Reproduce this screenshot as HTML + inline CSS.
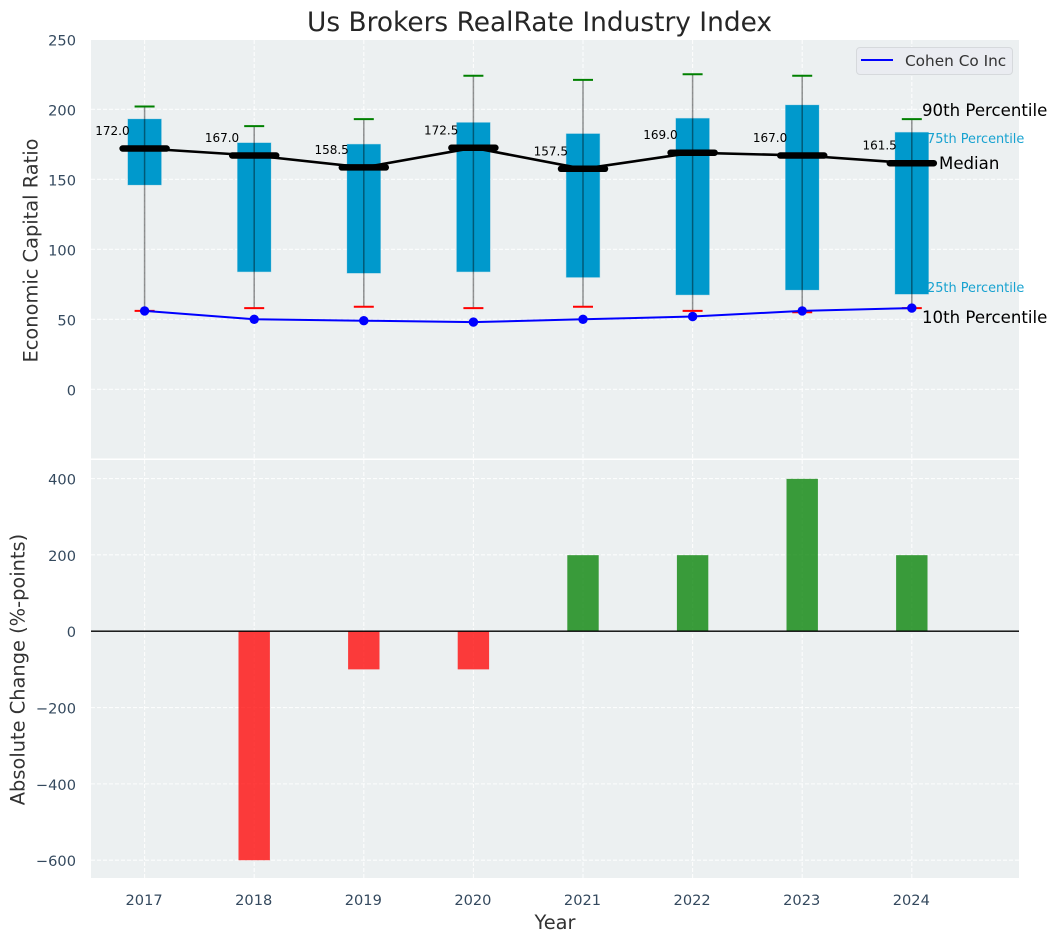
<!DOCTYPE html>
<html lang="en">
<head>
<meta charset="utf-8">
<title>Us Brokers RealRate Industry Index</title>
<style>
html,body{margin:0;padding:0;background:#fff;}
svg{display:block;font-family:"DejaVu Sans","Liberation Sans",sans-serif;}
</style>
</head>
<body>
<svg id="chart" xmlns="http://www.w3.org/2000/svg" width="1057" height="942" viewBox="0 0 1057 942">
  <rect x="91" y="40" width="928" height="418.5" fill="#ecf0f1"/>
  <rect x="91" y="460" width="928" height="418" fill="#ecf0f1"/>
  <g id="grid"></g>
  <g id="bars"></g>
  <g id="boxes"></g>
  <g id="whiskers"></g>
  <g id="medians"></g>
  <g id="company"></g>
  <g id="ticks"></g>
  <g id="labels"></g>
  <line id="zero" x1="91" x2="1019" stroke="#000" stroke-width="1.4"/>
  <text x="539.5" y="31" text-anchor="middle" font-size="26.4" fill="#262626">Us Brokers RealRate Industry Index</text>
  <text transform="translate(37.5,250.5) rotate(-90)" text-anchor="middle" font-size="19.4" fill="#333">Economic Capital Ratio</text>
  <text transform="translate(24.5,669.5) rotate(-90)" text-anchor="middle" font-size="19.4" fill="#333">Absolute Change (%-points)</text>
  <text x="555" y="929" text-anchor="middle" font-size="19.4" fill="#333">Year</text>
  <text x="922" y="116" font-size="16.6" fill="#000">90th Percentile</text>
  <text x="927" y="143" font-size="12.9" fill="#0099cc" fill-opacity="0.9">75th Percentile</text>
  <text x="939" y="169" font-size="16.6" fill="#000">Median</text>
  <text x="927" y="292" font-size="12.9" fill="#0099cc" fill-opacity="0.9">25th Percentile</text>
  <text x="922" y="323" font-size="16.6" fill="#000">10th Percentile</text>
  <g>
    <rect x="856.5" y="47.5" width="156" height="27" rx="3.5" fill="#eaecf1" stroke="#d6d9dc" stroke-width="1"/>
    <line x1="861" x2="893" y1="60" y2="60" stroke="#0000ff" stroke-width="2"/>
    <text x="905" y="66" font-size="15.3" fill="#333">Cohen Co Inc</text>
  </g>
</svg>
<script>
const years = [2017, 2018, 2019, 2020, 2021, 2022, 2023, 2024];
const p90 = [202, 188, 193, 224, 221, 225, 224, 193];
const p75 = [193, 176, 175, 190.5, 182.5, 193.5, 203, 183.5];
const medians = [172, 167, 158.5, 172.5, 157.5, 169, 167, 161.5];
const p25 = [146, 84, 83, 84, 80, 67.5, 71, 68];
const p10 = [56, 58, 59, 58, 59, 56, 55, 58];
const companyValues = [56, 50, 49, 48, 50, 52, 56, 58];
const changes = [0, -600, -100, -100, 200, 200, 400, 200];
const topTicks = [0, 50, 100, 150, 200, 250];
const bottomTicks = [-600, -400, -200, 0, 200, 400];

const NS = 'http://www.w3.org/2000/svg';
function x(v) { return 91 + (v - 2016.511) * 928 / (2024.978 - 2016.511); }
function yTop(v) { return 389.3 - 1.4 * v; }
function yBottom(v) { return 631.2 - 0.3817 * v; }
function mk(parent, tag, props) {
  const el = document.createElementNS(NS, tag);
  for (const k in props) el.setAttribute(k, props[k]);
  document.getElementById(parent).appendChild(el);
  return el;
}
function fmtTick(v) { return String(v).replace('-', '\u2212'); }

document.getElementById('zero').setAttribute('y1', yBottom(0));
document.getElementById('zero').setAttribute('y2', yBottom(0));

const gridStyle = { stroke: '#ffffff', 'stroke-width': 1.1, 'stroke-dasharray': '4 2', 'stroke-opacity': 0.85 };
years.forEach(function (yr) {
  const top = mk('grid', 'line', Object.assign({ x1: x(yr), x2: x(yr), y1: 40, y2: 458.5 }, gridStyle));
  
  
  const bot = mk('grid', 'line', Object.assign({ x1: x(yr), x2: x(yr), y1: 460, y2: 878 }, gridStyle));
  
  
  const t = mk('ticks', 'text', { x: x(yr) - 0.5, y: 905, 'text-anchor': 'middle', 'font-size': 14.6, fill: '#34495e' });
  t.textContent = yr;
  
  
});
topTicks.forEach(function (v) {
  const g = mk('grid', 'line', Object.assign({ x1: 91, x2: 1019, y1: yTop(v), y2: yTop(v) }, gridStyle));
  
  
  const t = mk('ticks', 'text', { x: 76, y: yTop(v) + 6, 'text-anchor': 'end', 'font-size': 14.6, fill: '#34495e' });
  t.textContent = fmtTick(v);
  
  
});
bottomTicks.forEach(function (v) {
  const g = mk('grid', 'line', Object.assign({ x1: 91, x2: 1019, y1: yBottom(v), y2: yBottom(v) }, gridStyle));
  
  
  const t = mk('ticks', 'text', { x: 76, y: yBottom(v) + 6, 'text-anchor': 'end', 'font-size': 14.6, fill: '#34495e' });
  t.textContent = fmtTick(v);
  
  
});

changes.forEach(function (v, i) {
  if (v === 0) return;
  const y0 = yBottom(Math.max(v, 0));
  const y1 = yBottom(Math.min(v, 0));
  const b = mk('bars', 'rect', { x: x(years[i]) - 15.7, y: y0 + 0.3, width: 31.4, height: y1 - y0 - 0.3, fill: v < 0 ? '#ff0000' : '#008000', 'fill-opacity': 0.76 });
  
  
});

years.forEach(function (yr, i) {
  const cx = x(yr);
  const box = mk('boxes', 'rect', { x: cx - 16.7, y: yTop(p75[i]), width: 33.4, height: yTop(p25[i]) - yTop(p75[i]), fill: '#0099cc', stroke: '#0099cc', 'stroke-opacity': 0.25, 'stroke-width': 1 });
  
  
  const w = mk('whiskers', 'line', { x1: cx, x2: cx, y1: yTop(p90[i]), y2: yTop(p10[i]), stroke: '#000', 'stroke-opacity': 0.42, 'stroke-width': 1.5 });
  
  
  const hi = mk('whiskers', 'line', { x1: cx - 10, x2: cx + 10, y1: yTop(p90[i]), y2: yTop(p90[i]), stroke: '#008000', 'stroke-width': 2 });
  
  
  const lo = mk('whiskers', 'line', { x1: cx - 10, x2: cx + 10, y1: yTop(p10[i]), y2: yTop(p10[i]), stroke: '#ff0000', 'stroke-width': 2 });
  
  
  const m = mk('medians', 'line', { x1: cx - 22, x2: cx + 22, y1: yTop(medians[i]), y2: yTop(medians[i]), stroke: '#000', 'stroke-width': 6.5, 'stroke-linecap': 'round' });
  
  
  const t = mk('labels', 'text', { x: cx - 15, y: yTop(medians[i]) - 13.5, 'text-anchor': 'end', 'font-size': 12, fill: '#000' });
  t.textContent = medians[i].toFixed(1);
  
  
});

const medianPath = mk('medians', 'polyline', { points: years.map(function (yr, i) { return x(yr) + ',' + yTop(medians[i]); }).join(' '), fill: 'none', stroke: '#000', 'stroke-width': 2.6 });



const companyLine = mk('company', 'polyline', { points: years.map(function (yr, i) { return x(yr) + ',' + yTop(companyValues[i]); }).join(' '), fill: 'none', stroke: '#0000ff', 'stroke-width': 2 });


years.forEach(function (yr, i) {
  const c = mk('company', 'circle', { cx: x(yr), cy: yTop(companyValues[i]), r: 4.7, fill: '#0000ff' });
  
  
});
</script>
</body>
</html>
